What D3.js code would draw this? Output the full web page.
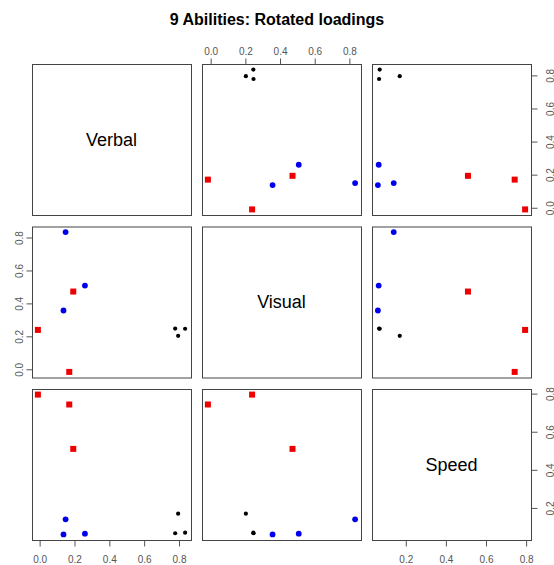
<!DOCTYPE html>
<html>
<head>
<meta charset="utf-8">
<script src="https://cdn.jsdelivr.net/npm/d3@7"></script>
<style>
  body { margin: 0; background: #fff; }
  svg { font-family: "Liberation Sans", Arial, sans-serif; }
</style>
</head>
<body>
<svg id="chart" width="554" height="565"></svg>
<script>
// factor names and rotated loadings of the 9 tests
const factors = ["Verbal", "Visual", "Speed"];
const groups = ["verbal", "verbal", "verbal", "visual", "visual", "visual", "speed", "speed", "speed"];
const verbal = [0.835, 0.795, 0.778, 0.26, 0.137, 0.149, 0.193, 0.17, -0.01];
const visual = [0.246, 0.203, 0.247, 0.508, 0.357, 0.833, 0.472, -0.016, 0.239];
const speed = [0.07, 0.17, 0.067, 0.065, 0.061, 0.14, 0.51, 0.743, 0.795];
const tickValues = [0, 0.2, 0.4, 0.6, 0.8];

const columns = [verbal, visual, speed];
const svg = d3.select("#chart");

const panelW = 159;
const panelH = 151;
const xs = [32, 202, 372];
const ys = [64, 226.5, 389];

const color = { verbal: "#000", visual: "#0000ee", speed: "#ee0000" };

svg.append("text")
  .attr("x", 277)
  .attr("y", 25)
  .attr("text-anchor", "middle")
  .attr("font-weight", "bold")
  .attr("font-size", 16)
  .text("9 Abilities: Rotated loadings");

// scales for each variable, padded 4% like R
const xScales = columns.map((vals, j) => {
  const [lo, hi] = d3.extent(vals);
  const pad = (hi - lo) * 0.04;
  return d3.scaleLinear().domain([lo - pad, hi + pad]).range([xs[j], xs[j] + panelW]);
});
const yScales = columns.map((vals, i) => {
  const [lo, hi] = d3.extent(vals);
  const pad = (hi - lo) * 0.04;
  return d3.scaleLinear().domain([lo - pad, hi + pad]).range([ys[i] + panelH, ys[i]]);
});

const fmt = d3.format(".1f");
const ticksIn = (s) => tickValues.filter((t) => t >= s.domain()[0] && t <= s.domain()[1]);

function styleAxis(g) {
  g.select(".domain").remove();
  g.selectAll(".tick line").attr("stroke", "#555");
  g.selectAll(".tick text").attr("fill", "#555").attr("font-size", 10);
}

for (let i = 0; i < 3; i++) {
  for (let j = 0; j < 3; j++) {
    const x0 = xs[j];
    const y0 = ys[i];

    if (i === j) {
      svg.append("text")
        .attr("x", x0 + panelW / 2)
        .attr("y", y0 + panelH / 2 + 6)
        .attr("text-anchor", "middle")
        .attr("font-size", 18)
        .text(factors[i]);
    } else {
      const pts = d3.range(9).map((k) => ({
        x: xScales[j](columns[j][k]),
        y: yScales[i](columns[i][k]),
        g: groups[k],
      }));
      const p = svg.append("g");
      p.selectAll("circle")
        .data(pts.filter((d) => d.g !== "speed"))
        .join("circle")
        .attr("cx", (d) => d.x)
        .attr("cy", (d) => d.y)
        .attr("r", (d) => (d.g === "verbal" ? 2.1 : 2.9))
        .attr("fill", (d) => color[d.g]);
      p.selectAll("rect")
        .data(pts.filter((d) => d.g === "speed"))
        .join("rect")
        .attr("x", (d) => d.x - 3)
        .attr("y", (d) => d.y - 3)
        .attr("width", 6)
        .attr("height", 6)
        .attr("fill", color.speed);
    }

    svg.append("rect")
      .attr("x", x0 + 0.5)
      .attr("y", y0 + 0.5)
      .attr("width", panelW)
      .attr("height", panelH)
      .attr("fill", "none")
      .attr("stroke", "#444")
      .attr("stroke-width", 1);
  }
}

// axes alternate sides as in R's pairs()
const bottomAx = d3.axisBottom(xScales[0]).tickValues(ticksIn(xScales[0])).tickFormat(fmt).tickSize(6).tickPadding(9);
svg.append("g").attr("transform", `translate(0,${ys[2] + panelH + 0.5})`).call(bottomAx).call(styleAxis);

const bottomAx3 = d3.axisBottom(xScales[2]).tickValues(ticksIn(xScales[2])).tickFormat(fmt).tickSize(6).tickPadding(9);
svg.append("g").attr("transform", `translate(0,${ys[2] + panelH + 0.5})`).call(bottomAx3).call(styleAxis);

const topAx = d3.axisTop(xScales[1]).tickValues(ticksIn(xScales[1])).tickFormat(fmt).tickSize(6).tickPadding(4);
svg.append("g").attr("transform", `translate(0,${ys[0] + 0.5})`).call(topAx).call(styleAxis);

const leftAx = d3.axisLeft(yScales[1]).tickValues(ticksIn(yScales[1])).tickFormat(fmt).tickSize(6);
svg.append("g").attr("transform", `translate(${xs[0] + 0.5},0)`).call(leftAx).call(styleAxis)
  .selectAll(".tick text")
  .attr("transform", "rotate(-90)")
  .attr("x", 0)
  .attr("y", -10)
  .attr("dy", 0)
  .attr("text-anchor", "middle");

[0, 2].forEach((i) => {
  const rightAx = d3.axisRight(yScales[i]).tickValues(ticksIn(yScales[i])).tickFormat(fmt).tickSize(6);
  svg.append("g").attr("transform", `translate(${xs[2] + panelW + 0.5},0)`).call(rightAx).call(styleAxis)
    .selectAll(".tick text")
    .attr("transform", "rotate(-90)")
    .attr("x", 0)
    .attr("y", 15)
    .attr("dy", "0.7em")
    .attr("text-anchor", "middle");
});
</script>
</body>
</html>
